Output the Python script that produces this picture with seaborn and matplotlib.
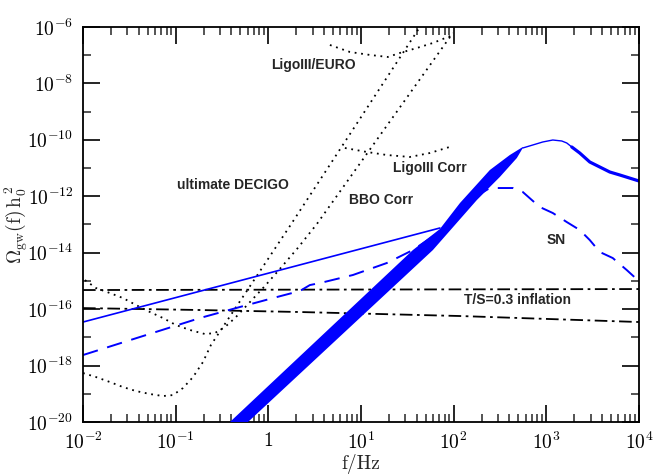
import matplotlib
matplotlib.use("Agg")
import matplotlib.pyplot as plt
import seaborn as sns
from matplotlib.ticker import FixedLocator, LogLocator, NullFormatter

# ultimate DECIGO sensitivity (dotted)
decigo_f = [0.0100, 0.0138, 0.0195, 0.0270, 0.0373, 0.0528, 0.0729, 0.0935,
            0.120, 0.154, 0.197, 0.240, 1.71, 43.2]
decigo_om = [5.43e-19, 3.92e-19, 2.61e-19, 1.73e-19, 1.25e-19, 9.8e-20, 8.3e-20,
             9.0e-20, 1.60e-19, 3.92e-19, 1.33e-18, 5.33e-18, 8.83e-14, 1.0e-6]

# BBO correlated sensitivity (dotted)
bbo_f = [0.0105, 0.0138, 0.0195, 0.0270, 0.0373, 0.0528, 0.0729, 0.1007, 0.1426,
         0.207, 0.265, 0.340, 0.437, 0.634, 0.918, 1.33, 2.08, 3.34, 98.0]
bbo_om = [1.07e-15, 5.6e-16, 3.72e-16, 2.47e-16, 1.40e-16, 7.9e-17, 4.84e-17,
          2.73e-17, 1.82e-17, 1.31e-17, 1.42e-17, 2.32e-17, 4.84e-17, 1.79e-16,
          6.6e-16, 2.64e-15, 1.47e-14, 1.04e-13, 6.12e-7]

# LigoIII / EURO (dotted)
euro_f = [4.62, 7.59, 12.5, 19.5, 26.3, 40.1, 59.7, 98.0]
euro_om = [2.30e-7, 1.30e-7, 1.02e-7, 8.65e-8, 1.20e-7, 1.80e-7, 2.71e-7, 5.20e-7]

# LigoIII correlated (dotted)
ligo_f = [6.70, 11.6, 19.0, 33.7, 55.3, 98.0]
ligo_om = [5.14e-11, 3.71e-11, 2.90e-11, 2.47e-11, 3.41e-11, 6.05e-11]

# T/S=0.3 inflation (dash-dot)
infl_hi_f = [0.01, 1e4]
infl_hi_om = [4.75e-16, 5.15e-16]
infl_lo_f = [0.01, 0.183, 2.19, 117, 1e4]
infl_lo_om = [1.09e-16, 9.3e-17, 7.9e-17, 5.7e-17, 3.49e-17]

# blue solid model
solid_f = [0.01, 71.0]
solid_om = [3.49e-17, 7.5e-14]
peak_f = [557, 714, 916, 1175, 1469, 1663, 1884]
peak_om = [5.14e-11, 6.56e-11, 8.4e-11, 9.86e-11, 9.1e-11, 7.73e-11, 5.57e-11]
tail_f = [1884, 2296, 2944, 3776, 4842, 6209, 1e4]
tail_om = [5.57e-11, 3.41e-11, 1.64e-11, 1.09e-11, 7.24e-12, 5.68e-12, 3.48e-12]

# blue dashed model (SN)
sn_f = [0.0100, 0.0412, 0.183, 0.494, 1.24, 2.19, 2.81, 3.61, 8.18, 19.0, 36.3,
        91.0, 150, 246, 436, 557, 698, 851, 1175, 1663, 2296, 2944, 3776, 5212,
        7379, 9705]
sn_om = [2.36e-18, 1.03e-17, 4.84e-17, 1.19e-16, 2.69e-16, 4.39e-16, 7.14e-16,
         8.41e-16, 1.62e-15, 4.31e-15, 1.24e-14, 9.6e-14, 7.4e-13, 1.96e-12,
         1.96e-12, 1.42e-12, 7.36e-13, 4.16e-13, 2.55e-13, 1.22e-13, 6.37e-14,
         2.81e-14, 1.06e-14, 6.47e-15, 2.43e-15, 1.07e-15]

# thick blue band
band_up_f = [0.308, 36.3, 71.0, 117, 246, 404, 557]
band_up_om = [5e-21, 1.24e-14, 6.90e-14, 5.77e-13, 8.53e-12, 2.90e-11, 5.57e-11]
band_lo_f = [0.481, 59.7, 178, 315, 481, 557]
band_lo_om = [5e-21, 1.24e-14, 7.36e-13, 4.82e-12, 2.27e-11, 5.14e-11]

xticks = [1e-2, 1e-1, 1, 1e1, 1e2, 1e3, 1e4]
xtick_labels = [r"$10^{-2}$", r"$10^{-1}$", r"$1$", r"$10^{1}$", r"$10^{2}$",
                r"$10^{3}$", r"$10^{4}$"]
yticks = [1e-20, 1e-18, 1e-16, 1e-14, 1e-12, 1e-10, 1e-8, 1e-6]
ytick_labels = [r"$10^{-20}$", r"$10^{-18}$", r"$10^{-16}$", r"$10^{-14}$",
                r"$10^{-12}$", r"$10^{-10}$", r"$10^{-8}$", r"$10^{-6}$"]
yminor = [1e-19, 1e-17, 1e-15, 1e-13, 1e-11, 1e-9, 1e-7]

sns.set_style("ticks")
plt.rcParams["mathtext.fontset"] = "cm"
plt.rcParams["font.family"] = ["DejaVu Serif"]

fig = plt.figure(figsize=(6.64, 4.75), dpi=100)
ax = fig.add_axes([0.125, 0.1116, 0.8373, 0.8316])
ax.set_xscale("log")
ax.set_yscale("log")

dot = (0, (1, 2.6))
dashdot = (0, (7, 2.5, 1.5, 2.5))
for fx, om in [(decigo_f, decigo_om), (bbo_f, bbo_om), (euro_f, euro_om), (ligo_f, ligo_om)]:
    sns.lineplot(x=fx, y=om, ax=ax, color="black", lw=1.3, linestyle=dot,
                 sort=False, estimator=None)
for fx, om in [(infl_hi_f, infl_hi_om), (infl_lo_f, infl_lo_om)]:
    sns.lineplot(x=fx, y=om, ax=ax, color="black", lw=1.3, linestyle=dashdot,
                 sort=False, estimator=None)

blue = "#0000ff"
sns.lineplot(x=sn_f, y=sn_om, ax=ax, color=blue, lw=1.4, linestyle=(0, (8, 5)),
             sort=False, estimator=None)
sns.lineplot(x=solid_f, y=solid_om, ax=ax, color=blue, lw=1.2, sort=False, estimator=None)
sns.lineplot(x=peak_f, y=peak_om, ax=ax, color=blue, lw=1.0, sort=False, estimator=None)
sns.lineplot(x=tail_f, y=tail_om, ax=ax, color=blue, lw=2.3, sort=False, estimator=None)
ax.fill(band_up_f + band_lo_f[::-1], band_up_om + band_lo_om[::-1], color=blue,
        lw=0, zorder=3)

ax.set_xlim(1e-2, 1e4)
ax.set_ylim(1e-20, 1e-6)
ax.set_xticks(xticks)
ax.set_xticklabels(xtick_labels)
ax.xaxis.set_minor_locator(LogLocator(base=10, subs=range(2, 10), numticks=20))
ax.xaxis.set_minor_formatter(NullFormatter())
ax.set_yticks(yticks)
ax.set_yticklabels(ytick_labels)
ax.yaxis.set_minor_locator(FixedLocator(yminor))
ax.yaxis.set_minor_formatter(NullFormatter())
ax.tick_params(which="major", direction="in", length=12, width=1.2, top=True,
               right=True, labelsize=14, pad=7, colors="black")
ax.tick_params(which="minor", direction="in", length=5.5, width=1.1, top=True,
               right=True)
for s in ax.spines.values():
    s.set_linewidth(1.3)
    s.set_color("black")

ax.set_xlabel("f/Hz", fontsize=14, family=["cmr10", "DejaVu Serif"], labelpad=1)
ax.set_ylabel(r"$\Omega_{\rm gw}(\mathrm{f})\,\mathrm{h}_0^{\,2}$", fontsize=14, labelpad=-2)

lab = dict(transform=ax.transAxes, ha="center", va="center", fontsize=10,
           fontweight="bold", family=["Liberation Sans", "DejaVu Sans"])
ax.text(0.415, 0.904, "LigoIII/EURO", **lab)
ax.text(0.270, 0.600, "ultimate DECIGO", **lab)
ax.text(0.624, 0.643, "LigoIII Corr", **lab)
ax.text(0.536, 0.562, "BBO Corr", **lab)
ax.text(0.851, 0.461, "SN", **lab)
ax.text(0.782, 0.309, "T/S=0.3 inflation", **lab)

fig.savefig("out.png", dpi=100)
